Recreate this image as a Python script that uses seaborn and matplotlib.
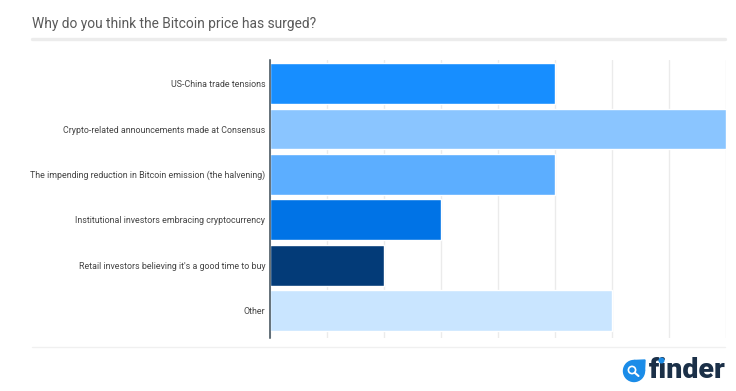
import matplotlib
matplotlib.use("Agg")
import matplotlib.pyplot as plt
import pandas as pd
import seaborn as sns
from matplotlib.lines import Line2D
from matplotlib.patches import Circle, Polygon
from matplotlib.transforms import Affine2D

categories = [
    "US-China trade tensions",
    "Crypto-related announcements made at Consensus",
    "The impending reduction in Bitcoin emission (the halvening)",
    "Institutional investors embracing cryptocurrency",
    "Retail investors believing it's a good time to buy",
    "Other",
]
values = [5, 8, 5, 3, 2, 6]
bar_colors = ["#178EFF", "#8AC5FF", "#5CAEFF", "#0073E6", "#033B78", "#C9E5FF"]

W, H = 736, 391

sns.set_theme(style="white")
plt.rcParams["font.family"] = ["Roboto", "DejaVu Sans"]

df = pd.DataFrame({"reason": categories, "share": values})

fig = plt.figure(figsize=(W / 100, H / 100), dpi=100, facecolor="white")
ax = fig.add_axes([270 / W, 1 - 338 / H, 455.5 / W, 278 / H])

sns.barplot(
    data=df, y="reason", x="share",
    order=categories, hue="reason", hue_order=categories,
    palette=bar_colors, legend=False, width=0.9, saturation=1, orient="h",
    zorder=2, ax=ax,
)

ax.set_xlim(0, 8)
ax.set_ylim(5.6, -0.52)
ax.set_xticks(range(9))
ax.set_xticklabels([])
ax.set_xlabel("")
ax.set_ylabel("")
ax.grid(axis="x", color="#EBEBEB", linewidth=1, zorder=0)
ax.set_axisbelow(True)
ax.tick_params(axis="both", length=0)
ax.tick_params(axis="y", labelsize=6.4, labelcolor="#444444", pad=3.5)
for side in ["top", "right", "bottom"]:
    ax.spines[side].set_visible(False)
ax.spines["left"].set_color("#3A4A55")
ax.spines["left"].set_linewidth(1.1)
ax.spines["left"].set_zorder(4)

fig.text(32 / W, 1 - 24 / H, "Why do you think the Bitcoin price has surged?",
         fontsize=9.9, color="#5A5A5A", va="center", ha="left")

# rules above and below the plot
fig.add_artist(Line2D([32 / W, 725 / W], [1 - 39 / H] * 2, color="#ECECEC", linewidth=2.4))
fig.add_artist(Line2D([32 / W, 725 / W], [1 - 346.5 / H] * 2, color="#F0F0F0", linewidth=1))

# finder logo, positions in pixels
to_fig = Affine2D().scale(1 / W, 1 / H) + fig.transFigure
fig.text(725.5 / W, 1 - 370.5 / H, "finder", fontsize=20.5, fontweight="black",
         color="#1B3048", ha="right", va="center")
fig.add_artist(Circle((661.5, H - 360.5), 2.3, color="#1A8CE8", transform=to_fig, zorder=5))
fig.add_artist(Circle((634, H - 371), 10.5, color="#1A8CE8", transform=to_fig))
fig.add_artist(Polygon([(634, H - 360.5), (645, H - 360), (644.5, H - 371)],
                       color="#1A8CE8", transform=to_fig))
fig.add_artist(Circle((632, H - 370), 3.6, facecolor="none", edgecolor="white",
                      linewidth=1.2, transform=to_fig))
fig.add_artist(Line2D([634.8, 638.5], [H - 372.8, H - 376], color="white", linewidth=1.5,
                      transform=to_fig))

fig.savefig("out.png", dpi=100)
plt.close(fig)
